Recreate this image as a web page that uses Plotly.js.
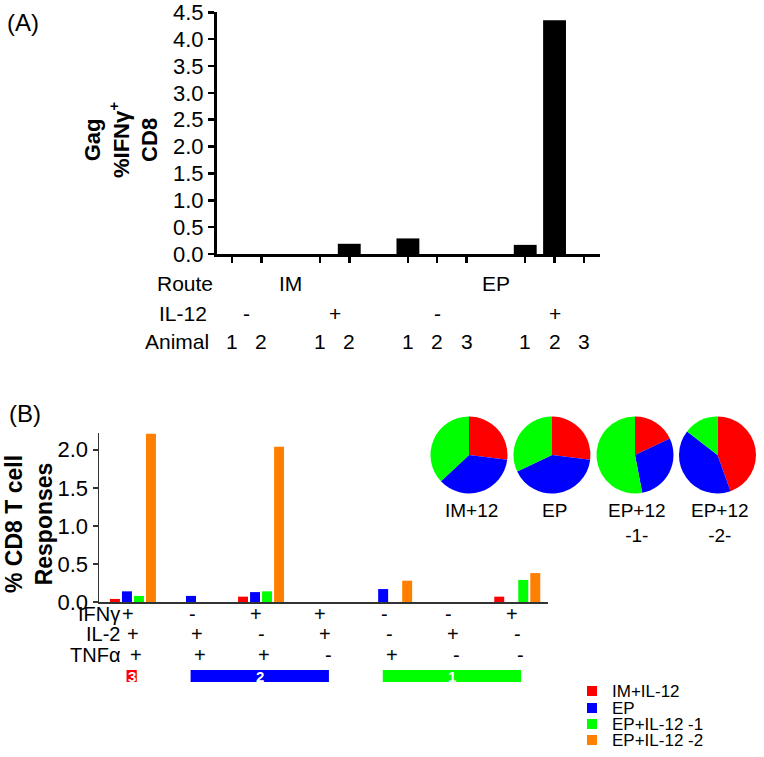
<!DOCTYPE html>
<html><head><meta charset="utf-8">
<script src="https://cdn.plot.ly/plotly-3.0.1.min.js"></script>
<style>html,body{margin:0;padding:0;background:#fff}#chart{width:764px;height:757px}</style>
</head><body><div id="chart"></div>
<script>
// ---------- Panel A data ----------
const routes  = ['IM','IM','IM','IM','EP','EP','EP','EP','EP','EP'];
const il12    = ['-','-','+','+','-','-','-','+','+','+'];
const animals = ['1','2','1','2','1','2','3','1','2','3'];
const gagIFNg = [0, 0, 0, 0.19, 0.29, 0, 0, 0.17, 4.35, 0];
const yTicksA = [0, 0.5, 1, 1.5, 2, 2.5, 3, 3.5, 4, 4.5];

// ---------- Panel B data ----------
const ifng = ['+','-','+','+','-','-','+'];
const il2  = ['+','+','-','+','-','+','-'];
const tnfa = ['+','+','+','-','+','-','-'];
const seriesNames = ['IM+IL-12','EP','EP+IL-12 -1','EP+IL-12 -2'];
const imIL12   = [0.04, 0,    0.07, 0, 0,    0, 0.07];
const epOnly   = [0.14, 0.08, 0.13, 0, 0.17, 0, 0];
const epIL12_1 = [0.08, 0,    0.14, 0, 0,    0, 0.29];
const epIL12_2 = [2.21, 0,    2.04, 0, 0.28, 0, 0.38];
const yTicksB = [0, 0.5, 1, 1.5, 2];

// ---------- Pies ----------
const pieNames   = ['IM+12','EP','EP+12<br>-1-','EP+12<br>-2-'];
const sliceNames = ['3 functions','2 functions','1 function'];
const pieThreeFn = [0.27, 0.27, 0.18, 0.445];
const pieTwoFn   = [0.36, 0.41, 0.29, 0.41];
const pieOneFn   = [0.37, 0.32, 0.53, 0.145];

// ---------- styling ----------
const W = 764, H = 757;
const FONT = 'Liberation Sans, Arial, sans-serif';
const seriesColors = ['#ff0000','#0000ff','#00ff00','#ff8000'];
const fnColors = {3:'#ff0000', 2:'#0000ff', 1:'#00ff00'};
const px = x => x / W, py = y => 1 - y / H;

// positions for panel A (gap between treatment groups)
const posA = []; let p = 0;
for (let i = 0; i < routes.length; i++) {
  if (i > 0 && (routes[i] !== routes[i-1] || il12[i] !== il12[i-1])) p += 1;
  posA.push(p); p += 1;
}

const traces = [];
traces.push({type:'bar', x: posA, y: gagIFNg, width: 0.78, xaxis:'x', yaxis:'y',
  marker:{color:'#000', line:{width:0}}, showlegend:false, hoverinfo:'y'});

const seriesB = [imIL12, epOnly, epIL12_1, epIL12_2];
const idxB = ifng.map((_, i) => i);
seriesB.forEach((vals, k) => traces.push({type:'bar', x: idxB, y: vals, name: seriesNames[k],
  xaxis:'x2', yaxis:'y2', marker:{color: seriesColors[k], line:{width:0}}, showlegend:false}));

const pieCx = [469, 552, 635, 717.5], pieCy = 455, pieR = 38.5;
pieNames.forEach((n, i) => traces.push({type:'pie', labels: sliceNames,
  values:[pieThreeFn[i], pieTwoFn[i], pieOneFn[i]], sort:false, direction:'clockwise', rotation:0,
  textinfo:'none', hoverinfo:'label+percent', showlegend:false,
  marker:{colors:[fnColors[3], fnColors[2], fnColors[1]], line:{width:0}},
  domain:{x:[px(pieCx[i]-pieR), px(pieCx[i]+pieR)], y:[py(pieCy+pieR), py(pieCy-pieR)]}}));

const ann = [], shapes = [];
const txt = (o) => ann.push(Object.assign({showarrow:false, xanchor:'center', yanchor:'middle',
  font:{family:FONT, size:21, color:'#000'}}, o));

// panel labels
txt({text:'(A)', xref:'paper', yref:'paper', x:px(5), y:py(23), xanchor:'left', font:{family:FONT,size:24,color:'#000'}});
txt({text:'(B)', xref:'paper', yref:'paper', x:px(7), y:py(413), xanchor:'left', font:{family:FONT,size:24,color:'#000'}});

// y titles
txt({text:'<b>Gag</b><br><b>%IFNγ<sup>+</sup></b><br><b>CD8</b>', xref:'paper', yref:'paper', x:px(121), y:py(140), textangle:-90, font:{family:FONT,size:22,color:'#000'}});
txt({text:'<b>% CD8 T cell</b><br><b>Responses</b>', xref:'paper', yref:'paper', x:px(29), y:py(524), textangle:-90, font:{family:FONT,size:23,color:'#000'}});

// panel A row labels
const rowYA = {Route:283, 'IL-12':313, Animal:341};
txt({text:'Route', xref:'paper', yref:'paper', x:px(155), y:py(rowYA.Route), xanchor:'left'});
txt({text:'IL-12', xref:'paper', yref:'paper', x:px(157), y:py(rowYA['IL-12']), xanchor:'left'});
txt({text:'Animal', xref:'paper', yref:'paper', x:px(143), y:py(rowYA.Animal), xanchor:'left'});
// route centers
[...new Set(routes)].forEach(r => {
  const ps = posA.filter((_, i) => routes[i] === r);
  txt({text:r, xref:'x', yref:'paper', x:(Math.min(...ps)+Math.max(...ps))/2, y:py(rowYA.Route)});
});
// IL-12 group centers
let start = 0;
for (let i = 1; i <= routes.length; i++) {
  if (i === routes.length || routes[i] !== routes[i-1] || il12[i] !== il12[i-1]) {
    const ps = posA.slice(start, i);
    txt({text:il12[start], xref:'x', yref:'paper', x:(ps[0]+ps[ps.length-1])/2, y:py(rowYA['IL-12'])});
    start = i;
  }
}
animals.forEach((a, i) => txt({text:a, xref:'x', yref:'paper', x:posA[i], y:py(rowYA.Animal)}));

// panel B row labels
const rowsB = [['IFNγ', ifng, 614, -5], ['IL-2', il2, 634, 0], ['TNFα', tnfa, 655, 3]];
rowsB.forEach(([lab, arr, y, sh]) => {
  txt({text:lab, xref:'paper', yref:'paper', x:px(122), y:py(y), xanchor:'right', font:{family:FONT,size:20,color:'#000'}});
  arr.forEach((s, i) => txt({text:s, xref:'x2', yref:'paper', x:i, xshift:sh, y:py(y), font:{family:FONT,size:20,color:'#000'}}));
});
// function-count bars
const nFn = ifng.map((_, i) => [ifng[i], il2[i], tnfa[i]].filter(s => s === '+').length);
[3, 2, 1].forEach(c => {
  const ids = nFn.map((n, i) => n === c ? i : -1).filter(i => i >= 0);
  const x0 = Math.min(...ids) - 0.1, x1 = Math.max(...ids) + 0.06;
  shapes.push({type:'rect', xref:'x2', yref:'paper', x0, x1, y0:py(682), y1:py(670), fillcolor:fnColors[c], line:{width:0}});
  txt({text:'<b>'+c+'</b>', xref:'x2', yref:'paper', x:(x0+x1)/2, y:py(676), font:{family:FONT,size:15,color:'#fff'}});
});

// pie labels
pieNames.forEach((n, i) => txt({text:n, xref:'paper', yref:'paper', x:px(pieCx[i] + 2), y:py(498), yanchor:'top', font:{family:FONT,size:19,color:'#000'}}));

// custom legend
const legY = [691, 708, 724, 740];
seriesNames.forEach((n, i) => {
  shapes.push({type:'rect', xref:'paper', yref:'paper', x0:px(587), x1:px(597), y0:py(legY[i]+5), y1:py(legY[i]-5), fillcolor:seriesColors[i], line:{width:0}});
  txt({text:n, xref:'paper', yref:'paper', x:px(610), y:py(legY[i]), xanchor:'left', font:{family:FONT,size:17,color:'#000'}});
});

const fmt = v => v.toFixed(1);
const layout = {
  width:W, height:H, margin:{l:0,r:0,t:0,b:0}, paper_bgcolor:'#fff', plot_bgcolor:'rgba(0,0,0,0)',
  font:{family:FONT, color:'#000'}, showlegend:false,
  barmode:'group', bargap:0.25, bargroupgap:0.17,
  xaxis:{domain:[px(217), px(600)], range:[-0.51, 12.55], anchor:'y', showline:true, linewidth:3, linecolor:'#000',
    ticks:'outside', ticklen:6, tickwidth:2.5, tickcolor:'#000', tickvals:posA, showticklabels:false,
    showgrid:false, zeroline:false, fixedrange:true},
  yaxis:{domain:[py(254), py(12)], range:[0, 4.505], anchor:'x', showline:true, linewidth:3, linecolor:'#000',
    ticks:'outside', ticklen:6, tickwidth:2.5, tickcolor:'#000', tickvals:yTicksA, ticktext:yTicksA.map(fmt),
    ticklabeloverflow:'allow',
    tickfont:{family:FONT, size:22, color:'#000'}, showgrid:false, zeroline:false, fixedrange:true},
  xaxis2:{domain:[px(99), px(548)], range:[-0.53, 6.48], anchor:'y2', showline:true, linewidth:2, linecolor:'#333',
    ticks:'', showticklabels:false, showgrid:false, zeroline:false, fixedrange:true},
  yaxis2:{domain:[py(602), py(433)], range:[0, 2.22], anchor:'x2', showline:true, linewidth:1.5, linecolor:'#333',
    ticks:'outside', ticklen:5, tickwidth:1.5, tickcolor:'#333', tickvals:yTicksB, ticktext:yTicksB.map(fmt),
    ticklabeloverflow:'allow',
    tickfont:{family:FONT, size:22, color:'#000'}, showgrid:false, zeroline:false, fixedrange:true},
  annotations: ann, shapes: shapes
};
Plotly.newPlot('chart', traces, layout, {displayModeBar:false, staticPlot:true});
</script></body></html>
